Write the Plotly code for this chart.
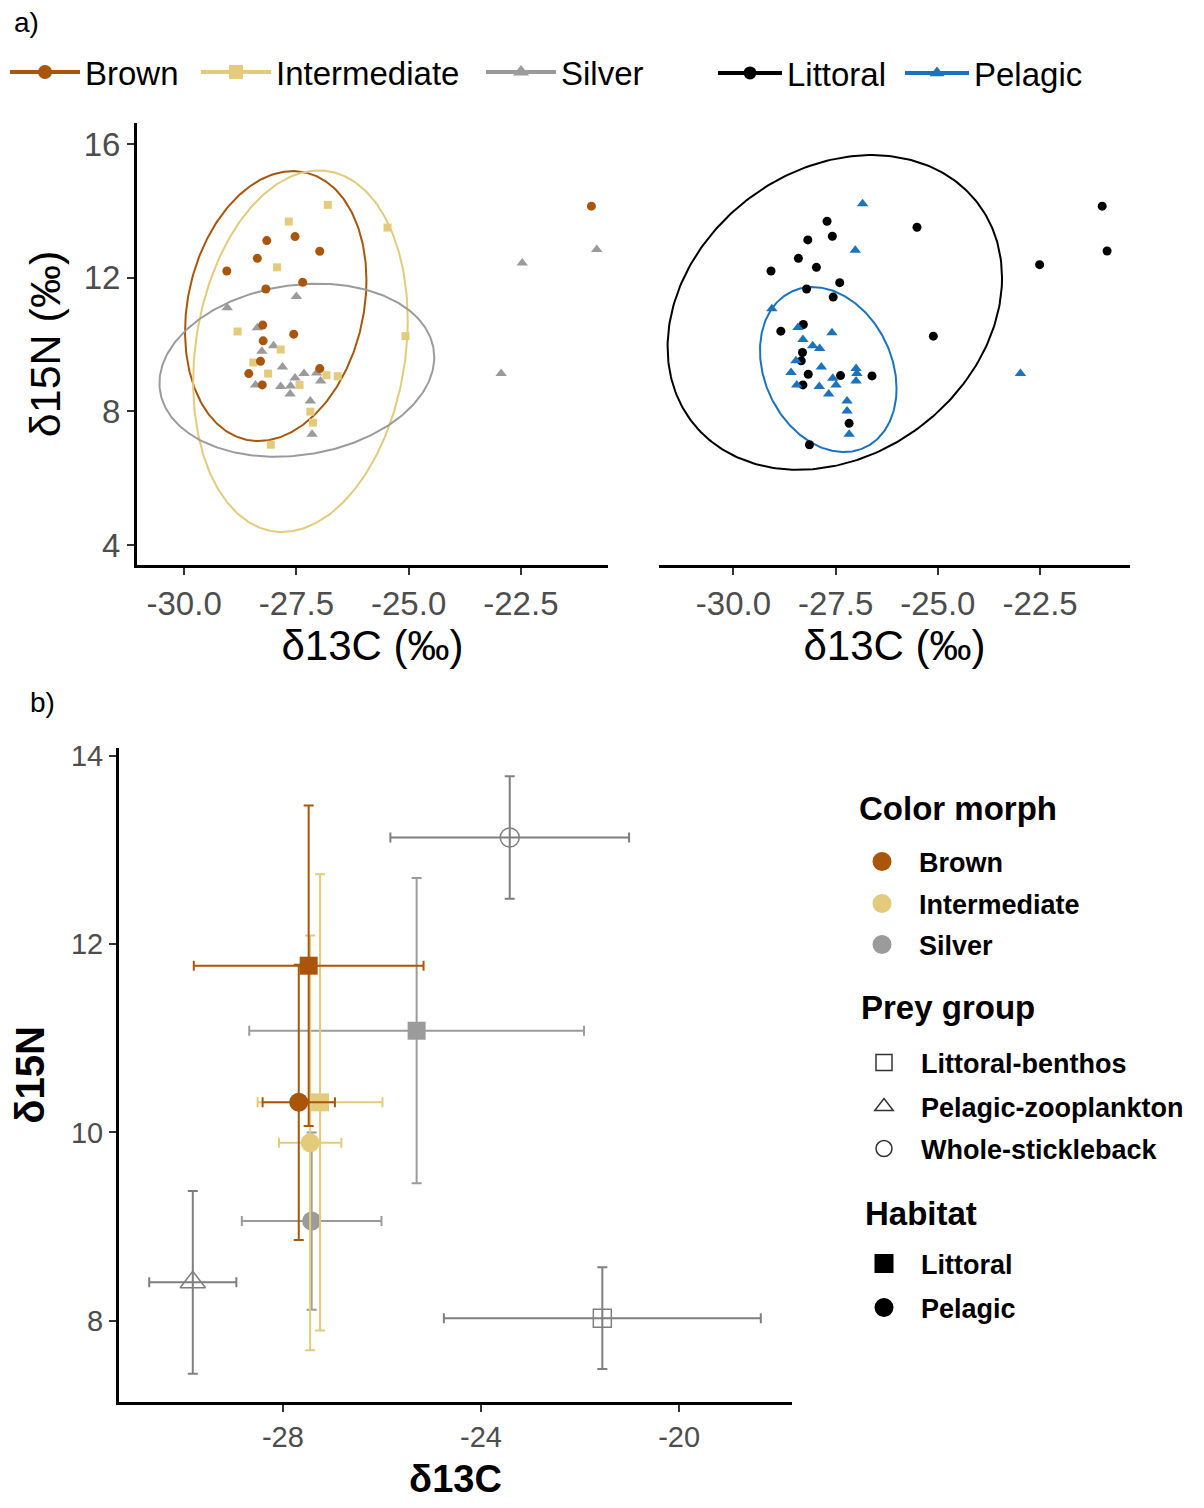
import numpy as np
import plotly.graph_objects as go

# ---------------- Panel a (left): individual fish by colour morph ----------------
brown_c = [-20.93, -28.16, -27.53, -26.98, -28.37, -29.05, -27.36, -28.18, -28.25, -27.56,
           -28.24, -28.30, -28.56, -26.98, -28.26]
brown_n = [14.14, 13.11, 13.23, 12.79, 12.58, 12.20, 11.86, 11.66, 10.58, 10.31,
           10.11, 9.50, 9.13, 9.28, 8.79]
inter_c = [-26.80, -27.67, -25.47, -27.93, -28.81, -25.07, -27.85, -28.46, -28.13, -26.83,
           -26.58, -27.43, -27.19, -27.13, -28.07]
inter_n = [14.18, 13.68, 13.50, 12.31, 10.39, 10.25, 9.85, 9.46, 9.13, 9.08,
           9.05, 8.79, 7.99, 7.66, 7.00]
silver_c = [-20.81, -22.47, -22.94, -27.50, -29.04, -28.37, -28.01, -28.27, -27.81, -27.33,
            -27.05, -27.53, -26.96, -28.41, -27.85, -27.63, -27.64, -27.19, -27.15]
silver_n = [12.84, 12.44, 9.13, 11.44, 11.10, 10.50, 9.96, 9.80, 9.33, 9.13,
            9.15, 9.00, 8.91, 8.79, 8.74, 8.76, 8.52, 8.31, 7.31]

# ---------------- Panel a (right): individual fish by habitat ----------------
litt_c = [-20.98, -20.86, -22.51, -25.51, -25.11, -27.71, -27.58, -28.18, -28.41, -27.97,
          -29.08, -27.40, -28.21, -27.56, -28.29, -28.84, -28.31, -28.34, -28.17, -27.38,
          -26.61, -28.30, -27.17, -28.14]
litt_n = [14.14, 12.80, 12.39, 13.51, 10.25, 13.69, 13.24, 13.13, 12.58, 12.31,
          12.20, 11.85, 11.66, 11.42, 10.60, 10.40, 9.76, 9.51, 9.11, 9.07,
          9.06, 8.79, 7.64, 7.00]
pel_c = [-26.84, -27.02, -22.98, -29.06, -28.42, -27.59, -28.30, -28.06, -27.89, -28.47,
         -27.85, -28.59, -27.57, -27.00, -26.98, -27.00, -28.45, -27.90, -27.49, -27.67,
         -27.22, -27.22, -27.17]
pel_n = [14.21, 12.82, 9.13, 11.07, 10.51, 10.35, 10.15, 9.96, 9.88, 9.51,
         9.33, 9.16, 8.99, 9.28, 9.13, 8.91, 8.79, 8.74, 8.79, 8.52,
         8.31, 8.01, 7.31]

# Standard ellipses: centre, SDs and correlation
ell_group = ["Brown", "Intermediate", "Silver", "Littoral", "Pelagic"]
ell_cx = [-27.96, -27.41, -27.49, -27.52, -27.68]
ell_cy = [11.15, 9.80, 9.23, 10.96, 9.25]
ell_sx = [2.02, 2.39, 3.06, 4.09, 1.67]
ell_sy = [4.04, 5.41, 2.59, 4.71, 2.47]
ell_rho = [0.19, 0.17, 0.15, 0.22, -0.23]

# ---------------- Panel b: means +/- SD ----------------
fish_morph = ["Silver", "Silver", "Intermediate", "Intermediate", "Brown", "Brown"]
fish_habitat = ["Littoral", "Pelagic", "Littoral", "Pelagic", "Littoral", "Pelagic"]
fish_c = [-25.30, -27.42, -27.25, -27.45, -27.48, -27.68]
fish_n = [11.08, 9.06, 10.32, 9.89, 11.77, 10.32]
fish_sd_c = [3.38, 1.41, 1.26, 0.63, 2.32, 0.73]
fish_sd_n = [1.62, 0.94, 2.42, 2.20, 1.70, 1.46]

prey_group = ["Littoral-benthos", "Pelagic-zooplankton", "Whole-stickleback"]
prey_c = [-21.55, -29.82, -23.42]
prey_n = [8.03, 8.41, 13.13]
prey_sd_c = [3.20, 0.88, 2.41]
prey_sd_n = [0.54, 0.97, 0.65]

# ---------------- styling ----------------
FONT = "Liberation Sans, Arial, sans-serif"
W, H = 1204, 1508
OX, OY = 8, 8  # page (body) offset of the figure in the browser


def px_x(p):
    return (p - OX) / W


def px_y(p):
    return 1 - (p - OY) / H


col = {"Brown": "#A9550B", "Intermediate": "#E3CB7B", "Silver": "#9B9B9B",
       "Littoral": "#000000", "Pelagic": "#1A73BD"}
sym_a = {"Brown": "circle", "Intermediate": "square", "Silver": "triangle-up",
         "Littoral": "circle", "Pelagic": "triangle-up"}
size_a = {"Brown": 9, "Intermediate": 8, "Silver": 10, "Littoral": 9, "Pelagic": 10}
PREY_COL = "#7F7F7F"


def ellipse_xy(cx, cy, sx, sy, rho, n=300):
    t = np.linspace(0, 2 * np.pi, n)
    x = cx + sx * np.cos(t)
    y = cy + sy * (rho * np.cos(t) + np.sqrt(1 - rho ** 2) * np.sin(t))
    return x, y


fig = go.Figure()

# ellipses
for g, cx, cy, sx, sy, r in zip(ell_group, ell_cx, ell_cy, ell_sx, ell_sy, ell_rho):
    ex, ey = ellipse_xy(cx, cy, sx, sy, r)
    left = g in ("Brown", "Intermediate", "Silver")
    fig.add_trace(go.Scatter(x=ex, y=ey, mode="lines", line=dict(color=col[g], width=2),
                             xaxis="x" if left else "x2", yaxis="y" if left else "y2",
                             showlegend=False, hoverinfo="skip"))

# points
pts = [("Silver", silver_c, silver_n, "x", "y"),
       ("Intermediate", inter_c, inter_n, "x", "y"),
       ("Brown", brown_c, brown_n, "x", "y"),
       ("Littoral", litt_c, litt_n, "x2", "y2"),
       ("Pelagic", pel_c, pel_n, "x2", "y2")]
for g, xs, ys, xa, ya in pts:
    fig.add_trace(go.Scatter(x=xs, y=ys, mode="markers", name=g,
                             marker=dict(color=col[g], symbol=sym_a[g], size=size_a[g]),
                             xaxis=xa, yaxis=ya, showlegend=False))

# panel b prey
prey_sym = {"Littoral-benthos": "square-open", "Pelagic-zooplankton": "triangle-up-open",
            "Whole-stickleback": "circle-open"}
prey_size = {"Littoral-benthos": 18, "Pelagic-zooplankton": 22, "Whole-stickleback": 19}
for g, cx, cy, sc, sn in zip(prey_group, prey_c, prey_n, prey_sd_c, prey_sd_n):
    fig.add_trace(go.Scatter(
        x=[cx], y=[cy], mode="markers", name=g, xaxis="x3", yaxis="y3", showlegend=False,
        marker=dict(symbol=prey_sym[g], size=prey_size[g], color=PREY_COL,
                    line=dict(color=PREY_COL, width=1.5)),
        error_x=dict(type="data", array=[sc], color=PREY_COL, thickness=2, width=5),
        error_y=dict(type="data", array=[sn], color=PREY_COL, thickness=2, width=5)))

# panel b fish
for m, h, cx, cy, sc, sn in zip(fish_morph, fish_habitat, fish_c, fish_n, fish_sd_c, fish_sd_n):
    fig.add_trace(go.Scatter(
        x=[cx], y=[cy], mode="markers", name=f"{m} {h}", xaxis="x3", yaxis="y3",
        showlegend=False,
        marker=dict(symbol="square" if h == "Littoral" else "circle",
                    size=18 if h == "Littoral" else 19, color=col[m]),
        error_x=dict(type="data", array=[sc], color=col[m], thickness=2, width=5),
        error_y=dict(type="data", array=[sn], color=col[m], thickness=2, width=5)))

# ---------------- legends (one legend per entry for exact placement) ----------------
legends = {}
entries = []  # (name, trace kwargs, x_origin_px, y_center_px, itemwidth, fontsize, bold)
for name, xo, yc in [("Brown", 5, 72), ("Intermediate", 196, 72), ("Silver", 481, 72)]:
    entries.append((name, dict(mode="lines+markers", line=dict(color=col[name], width=4),
                               marker=dict(color=col[name], symbol=sym_a[name], size=14)),
                    xo, yc, 70, 33, False))
for name, xo, yc in [("Littoral", 713, 73), ("Pelagic", 900, 73)]:
    entries.append((name, dict(mode="lines+markers", line=dict(color=col[name], width=4),
                               marker=dict(color=col[name], symbol=sym_a[name], size=13)),
                    xo, yc, 64, 33, False))
for name, yc in [("Brown", 862), ("Intermediate", 904), ("Silver", 945)]:
    entries.append((name, dict(mode="markers", marker=dict(color=col[name], symbol="circle", size=16,
                                                            line=dict(color=col[name], width=3))),
                    845, yc, 64, 27, True))
for name, yc in [("Littoral-benthos", 1063), ("Pelagic-zooplankton", 1107), ("Whole-stickleback", 1149)]:
    entries.append((name, dict(mode="markers", marker=dict(color="#333333", symbol=prey_sym[name],
                                                            size=16, line=dict(width=1.5, color="#333333"))),
                    847, yc, 64, 27, True))
for name, sym, yc in [("Littoral", "square", 1264), ("Pelagic", "circle", 1308)]:
    entries.append((name, dict(mode="markers", marker=dict(color="#000000", symbol=sym, size=16,
                                                            line=dict(color="#000000", width=3))),
                    847, yc, 64, 27, True))

for i, (name, kw, xo, yc, iw, fs, bold) in enumerate(entries):
    lid = "legend" if i == 0 else f"legend{i + 1}"
    label = f"<b>{name}</b>" if bold else name
    fig.add_trace(go.Scatter(x=[None], y=[None], name=label, showlegend=True, legend=lid,
                             xaxis="x", yaxis="y", hoverinfo="skip", **kw))
    legends[lid] = dict(x=px_x(xo), y=px_y(yc), xanchor="left", yanchor="middle",
                        orientation="v", bgcolor="rgba(0,0,0,0)", borderwidth=0,
                        itemwidth=iw, font=dict(family=FONT, size=fs, color="black"),
                        itemclick=False, itemdoubleclick=False)

# ---------------- axes ----------------
tick_a = dict(family=FONT, size=33, color="#4D4D4D")
tick_b = dict(family=FONT, size=29, color="#4D4D4D")
common = dict(showgrid=False, zeroline=False, showline=True, linecolor="black", linewidth=3,
              ticks="outside", ticklen=7, tickwidth=2, tickcolor="#333333")

layout_axes = dict(
    xaxis=dict(domain=[px_x(137), px_x(608)], anchor="y", range=[-31.05, -20.56],
               tickvals=[-30, -27.5, -25, -22.5], ticktext=["-30.0", "-27.5", "-25.0", "-22.5"],
               tickfont=tick_a, title=dict(text="δ13C (‰)", font=dict(family=FONT, size=42, color="black"),
                                           standoff=10), **common),
    yaxis=dict(domain=[px_y(565), px_y(123)], anchor="x", range=[3.4, 16.63],
               tickvals=[4, 8, 12, 16], tickfont=tick_a,
               title=dict(text="δ15N (‰)", font=dict(family=FONT, size=43, color="black"),
                          standoff=10), **common),
    xaxis2=dict(domain=[px_x(659), px_x(1130)], anchor="y2", range=[-31.82, -20.30],
                tickvals=[-30, -27.5, -25, -22.5], ticktext=["-30.0", "-27.5", "-25.0", "-22.5"],
                tickfont=tick_a, title=dict(text="δ13C (‰)", font=dict(family=FONT, size=42, color="black"),
                                            standoff=10), **common),
    yaxis2=dict(domain=[px_y(565), px_y(123)], anchor="x2", range=[3.4, 16.63], visible=False),
    xaxis3=dict(domain=[px_x(119), px_x(792)], anchor="y3", range=[-31.31, -17.72],
                tickvals=[-28, -24, -20], ticktext=["-28", "-24", "-20"], tickfont=tick_b,
                title=dict(text="<b>δ13C</b>", font=dict(family=FONT, size=38, color="black"),
                           standoff=14), **common),
    yaxis3=dict(domain=[px_y(1402), px_y(748)], anchor="x3", range=[7.14, 14.08],
                tickvals=[8, 10, 12, 14], tickfont=tick_b,
                title=dict(text="<b>δ15N</b>", font=dict(family=FONT, size=40, color="black"),
                           standoff=14), **common),
)

annotations = [
    dict(text="a)", x=px_x(12), y=px_y(22), xref="paper", yref="paper", xanchor="left",
         yanchor="middle", showarrow=False, font=dict(family=FONT, size=28, color="black")),
    dict(text="b)", x=px_x(28), y=px_y(702), xref="paper", yref="paper", xanchor="left",
         yanchor="middle", showarrow=False, font=dict(family=FONT, size=28, color="black")),
]
for t, xl, yc in [("Color morph", 857, 808), ("Prey group", 859, 1007), ("Habitat", 863, 1213)]:
    annotations.append(dict(text=f"<b>{t}</b>", x=px_x(xl), y=px_y(yc), xref="paper", yref="paper",
                            xanchor="left", yanchor="middle", showarrow=False,
                            font=dict(family=FONT, size=33, color="black")))

fig.update_layout(
    width=W, height=H, margin=dict(l=0, r=0, t=0, b=0, autoexpand=False),
    paper_bgcolor="white", plot_bgcolor="white",
    font=dict(family=FONT, color="black"),
    annotations=annotations, hovermode="closest",
    **layout_axes, **legends,
)

fig.write_html("out.html")
